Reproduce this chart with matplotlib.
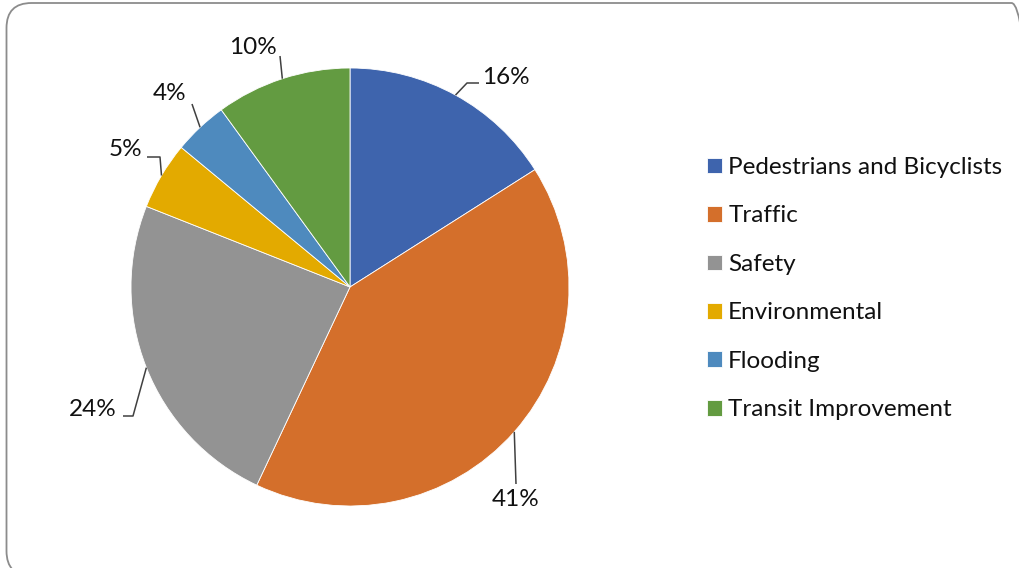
import numpy as np
import matplotlib.pyplot as plt
from matplotlib.patches import FancyBboxPatch

categories = ["Pedestrians and Bicyclists", "Traffic", "Safety",
              "Environmental", "Flooding", "Transit Improvement"]
values = [16, 41, 24, 5, 4, 10]
pct_labels = ["16%", "41%", "24%", "5%", "4%", "10%"]
colors = ["#3E64AD", "#D46F2B", "#939393", "#E3AA00", "#4E8ABE", "#639B41"]

W, H = 1019, 568
fig = plt.figure(figsize=(W / 100, H / 100), dpi=100)
ax = fig.add_axes([0, 0, 1, 1])

cx, cy, R = 350, H - 287, 219
wedges, _ = ax.pie(values, colors=colors, startangle=90, counterclock=False,
                   center=(cx, cy), radius=R,
                   wedgeprops=dict(linewidth=0.6, edgecolor="white"))

ax.set_xlim(0, W)
ax.set_ylim(0, H)
ax.set_aspect("equal")
ax.axis("off")

# leader lines (image pixel points after the wedge edge point) and label spots
leaders = [[(467, 83), (479, 83)], [(516, 484)], [(133, 416), (123, 416)],
           [(160, 157), (147, 157)], [(192, 104)], [(280, 56)]]
label_pos = [(482, 77, "left"), (516, 500, "center"), (93, 410, "center"),
             (125, 149, "center"), (170, 94, "center"), (253, 48, "center")]

font = "Lato"
fs = 17.5
for w, pts, (lx, ly, ha), txt in zip(wedges, leaders, label_pos, pct_labels):
    ang = np.deg2rad((w.theta1 + w.theta2) / 2)
    x0, y0 = cx + R * np.cos(ang), cy + R * np.sin(ang)
    xs = [x0] + [p[0] for p in pts]
    ys = [y0] + [H - p[1] for p in pts]
    ax.plot(xs, ys, color="#404040", lw=1.1, solid_capstyle="butt")
    ax.text(lx, H - ly, txt, ha=ha, va="center", fontsize=fs,
            family=font, color="#111111")

leg = ax.legend(wedges, categories, loc="upper left",
                bbox_to_anchor=(707 / W, 1 - 157 / H),
                frameon=False, prop=dict(family=font, size=fs),
                handlelength=0.62, handleheight=0.62, handletextpad=0.25,
                labelspacing=1.13, borderpad=0, borderaxespad=0)
for t in leg.get_texts():
    t.set_color("#111111")

border = FancyBboxPatch((6.5, H - 576), 1030, 573,
                        boxstyle="round,pad=0,rounding_size=25",
                        fill=False, edgecolor="#8c8c8c", lw=1.3)
ax.add_patch(border)

fig.savefig("out.png", dpi=100)
